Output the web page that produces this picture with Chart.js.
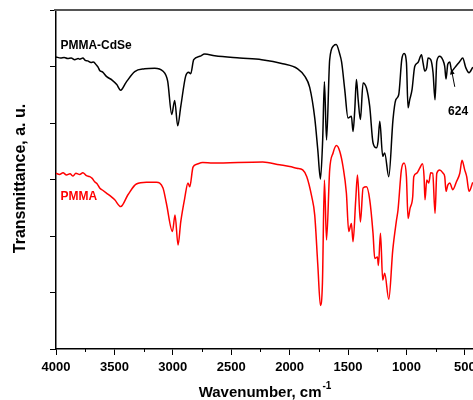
<!DOCTYPE html>
<html><head><meta charset="utf-8">
<script src="https://cdn.jsdelivr.net/npm/chart.js@4.4.1/dist/chart.umd.min.js"></script>
<style>html,body{margin:0;padding:0;background:#fff;overflow:hidden}canvas{display:block}</style>
</head><body>
<canvas id="c" width="473" height="400"></canvas>
<script>
// ---- data (wavenumber in cm-1, transmittance in arbitrary units) ----
const xTickLabels = [4000, 3500, 3000, 2500, 2000, 1500, 1000, 500];
const xMinorTicks = [3750, 3250, 2750, 2250, 1750, 1250, 750];
const yTicks = [0, 1, 2, 3, 4, 5, 6];
const seriesNames = ['PMMA-CdSe', 'PMMA'];
const peakLabel = '624';

const cdseWn = [4000,3960,3930,3900,3870,3840,3810,3797,3770,3750,3729,3700,3680,3652,3640,3626,3600,3566,3520,3480,3446,3400,3326,3241,3155,3086,3044,3009,2984,2958,2932,2890,2864,2847,2821,2770,2727,2641,2427,2239,2059,1931,1871,1828,1785,1759,1736,1717,1702,1684,1657,1622,1601,1571,1555,1528,1500,1471,1457,1442,1428,1413,1394,1371,1342,1314,1286,1257,1243,1228,1203,1186,1151,1115,1091,1066,1040,1020,1000,986,972,952,929,901,871,858,843,826,815,792,772,755,740,715,689,672,661,646,629,612,586,543,518,492,464,432];
const cdseT  = [5.17,5.15,5.16,5.14,5.15,5.12,5.14,5.13,5.15,5.11,5.10,5.07,5.08,5.02,4.99,4.93,4.90,4.82,4.76,4.68,4.58,4.72,4.91,4.96,4.97,4.92,4.74,4.15,4.40,3.95,4.29,4.83,4.90,4.87,5.12,5.18,5.22,5.19,5.15,5.12,5.05,4.96,4.83,4.63,4.09,3.53,3.01,3.70,4.73,3.70,5.12,5.37,5.39,5.22,5.08,4.59,4.09,4.12,3.85,4.24,4.77,4.41,4.06,4.71,4.62,4.29,3.65,3.56,3.67,4.03,3.41,3.47,3.05,4.06,4.41,4.50,5.12,5.23,5.07,4.27,4.41,4.59,5.00,5.07,5.21,5.07,4.92,4.98,5.15,5.12,4.89,4.41,5.09,5.18,5.12,5.00,4.78,5.04,5.08,4.92,4.98,5.09,5.15,4.98,4.89,4.99];

const pmmaWn = [4000,3970,3940,3910,3880,3854,3830,3797,3770,3740,3711,3690,3669,3650,3626,3600,3568,3530,3497,3446,3384,3312,3226,3140,3084,3055,3003,2981,2955,2932,2898,2870,2855,2827,2795,2744,2658,2230,2085,1999,1939,1888,1853,1811,1785,1759,1736,1719,1702,1684,1657,1628,1599,1571,1543,1514,1494,1471,1457,1434,1419,1394,1371,1342,1314,1286,1271,1248,1240,1222,1203,1186,1151,1117,1085,1072,1043,1020,1000,986,969,946,937,912,886,863,849,841,826,809,792,775,755,740,715,686,672,661,646,629,603,572,543,524,501,484,464,432];
const pmmaT  = [3.11,3.09,3.12,3.08,3.10,3.06,3.11,3.09,3.12,3.07,3.05,3.02,2.96,2.93,2.85,2.81,2.76,2.70,2.64,2.52,2.73,2.92,2.95,2.95,2.85,2.58,2.08,2.37,1.84,2.25,2.67,2.94,2.87,3.22,3.27,3.30,3.29,3.31,3.26,3.23,3.20,3.17,3.05,2.70,2.37,1.50,0.77,1.17,2.99,1.93,3.17,3.47,3.60,3.50,3.23,2.76,2.08,2.22,1.90,2.64,3.08,2.25,2.85,2.87,2.64,2.05,1.60,1.63,1.48,2.05,1.22,1.34,0.88,1.75,2.28,2.46,3.17,3.29,3.05,2.31,2.49,2.70,3.05,3.11,3.20,3.28,3.05,2.64,2.99,2.94,3.12,3.11,2.40,3.11,3.17,3.11,3.05,2.79,2.90,2.94,2.82,2.96,3.11,3.34,3.17,3.05,2.79,2.95];

const FONT = '"Liberation Sans", Arial, Helvetica, sans-serif';
const toPts = (xs, ys) => xs.map((v, i) => ({x: v, y: ys[i]}));

const overlay = {
  id: 'overlay',
  beforeDraw(chart) {
    const ctx = chart.ctx;
    ctx.save(); ctx.fillStyle = '#fff'; ctx.fillRect(0, 0, chart.width, chart.height); ctx.restore();
  },
  afterDraw(chart) {
    const {ctx, chartArea: a, scales: {x, y}} = chart;
    ctx.save();
    // top frame line
    ctx.strokeStyle = '#555'; ctx.lineWidth = 2;
    ctx.beginPath(); ctx.moveTo(a.left - 2, a.top); ctx.lineTo(a.right, a.top); ctx.stroke();
    // minor x ticks
    ctx.strokeStyle = '#000'; ctx.lineWidth = 1;
    xMinorTicks.forEach(v => {
      const px = Math.round(x.getPixelForValue(v)) + 0.5;
      ctx.beginPath(); ctx.moveTo(px, a.bottom); ctx.lineTo(px, a.bottom + 3); ctx.stroke();
    });
    // series labels
    ctx.font = 'bold 12px ' + FONT; ctx.textAlign = 'left'; ctx.textBaseline = 'alphabetic';
    ctx.fillStyle = '#000';
    ctx.fillText(seriesNames[0], x.getPixelForValue(3962), y.getPixelForValue(5.31));
    ctx.fillStyle = '#ff0000';
    ctx.fillText(seriesNames[1], x.getPixelForValue(3962), y.getPixelForValue(2.63));
    ctx.fillStyle = '#000';
    ctx.fillText(peakLabel, x.getPixelForValue(643), y.getPixelForValue(4.146));
    // arrow
    const x0 = x.getPixelForValue(586), y0 = y.getPixelForValue(4.64);
    const x1 = x.getPixelForValue(616), y1 = y.getPixelForValue(4.96);
    ctx.strokeStyle = '#000'; ctx.lineWidth = 1;
    ctx.beginPath(); ctx.moveTo(x0, y0); ctx.lineTo(x1, y1); ctx.stroke();
    const ang = Math.atan2(y1 - y0, x1 - x0), L = 6, W = 0.4;
    ctx.beginPath(); ctx.moveTo(x1, y1);
    ctx.lineTo(x1 - L * Math.cos(ang - W), y1 - L * Math.sin(ang - W));
    ctx.lineTo(x1 - L * Math.cos(ang + W), y1 - L * Math.sin(ang + W));
    ctx.closePath(); ctx.fill();
    // x axis title with superscript
    ctx.font = 'bold 15px ' + FONT;
    const t1 = 'Wavenumber, cm';
    const w1 = ctx.measureText(t1).width;
    ctx.font = 'bold 10px ' + FONT;
    const w2 = ctx.measureText('-1').width;
    const sx = (a.left + a.right) / 2 - (w1 + w2) / 2;
    ctx.font = 'bold 15px ' + FONT;
    ctx.fillText(t1, sx, 397);
    ctx.font = 'bold 10px ' + FONT;
    ctx.fillText('-1', sx + w1 + 1, 389);
    // y axis title
    ctx.font = 'bold 16px ' + FONT;
    ctx.translate(25, (a.top + a.bottom) / 2 - 1);
    ctx.rotate(-Math.PI / 2);
    ctx.textAlign = 'center';
    ctx.fillText('Transmittance, a. u.', 0, 0);
    ctx.restore();
  }
};

new Chart(document.getElementById('c'), {
  type: 'line',
  data: {
    datasets: [
      {label: seriesNames[0], data: toPts(cdseWn, cdseT), borderColor: '#000', borderWidth: 1.5, pointRadius: 0, cubicInterpolationMode: 'monotone', fill: false},
      {label: seriesNames[1], data: toPts(pmmaWn, pmmaT), borderColor: '#ff0000', borderWidth: 1.5, pointRadius: 0, cubicInterpolationMode: 'monotone', fill: false}
    ]
  },
  options: {
    responsive: false, animation: false, devicePixelRatio: 1,
    layout: {padding: {top: 10, right: 0, bottom: 0, left: 0}},
    plugins: {legend: {display: false}, tooltip: {enabled: false}},
    scales: {
      x: {
        type: 'linear', reverse: true, min: 430, max: 4000,
        afterBuildTicks: s => { s.ticks = xTickLabels.map(v => ({value: v})); },
        afterFit: s => { s.height = 51; s.paddingLeft = 0; s.paddingRight = 0; },
        ticks: {color: '#000', font: {family: FONT, size: 13, weight: 'bold'}, maxRotation: 0, autoSkip: false, padding: 5,
                callback: v => String(v)},
        grid: {drawOnChartArea: false, drawTicks: true, tickLength: 6, color: '#000', lineWidth: 1},
        border: {color: '#000', width: 1.5}
      },
      y: {
        min: 0, max: 6,
        afterBuildTicks: s => { s.ticks = yTicks.map(v => ({value: v})); },
        afterFit: s => { s.width = 56; },
        ticks: {display: false},
        grid: {drawOnChartArea: false, drawTicks: true, tickLength: 6, color: '#000', lineWidth: 1},
        border: {color: '#000', width: 1.5}
      }
    }
  },
  plugins: [overlay]
});
</script>
</body></html>
